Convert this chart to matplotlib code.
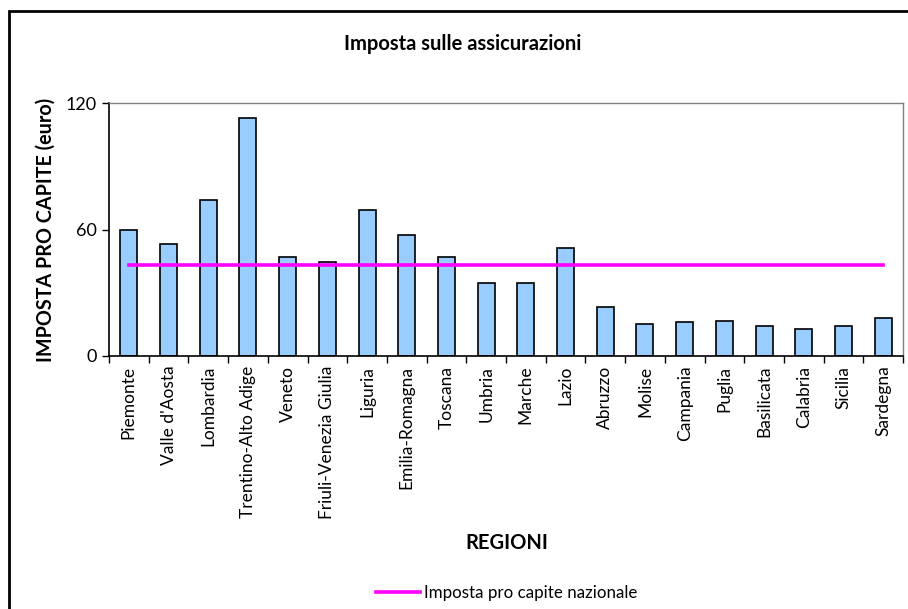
import matplotlib.pyplot as plt
from matplotlib.patches import Rectangle
import numpy as np

plt.rcParams["font.family"] = ["Lato", "DejaVu Sans"]

regions = [
    "Piemonte", "Valle d'Aosta", "Lombardia", "Trentino-Alto Adige", "Veneto",
    "Friuli-Venezia Giulia", "Liguria", "Emilia-Romagna", "Toscana", "Umbria",
    "Marche", "Lazio", "Abruzzo", "Molise", "Campania", "Puglia", "Basilicata",
    "Calabria", "Sicilia", "Sardegna",
]
# imposta pro capite per regione (euro)
imposta = [60.0, 53.3, 74.0, 113.0, 46.8, 44.4, 69.4, 57.4, 46.8, 34.8,
           34.8, 51.4, 23.4, 15.2, 15.9, 16.8, 14.4, 13.0, 14.4, 18.2]
# media nazionale
nazionale = 43.2
y_ticks = [0, 60, 120]

fig = plt.figure(figsize=(9.08, 6.09), dpi=100)
ax = fig.add_axes([109 / 908, 1 - 356 / 609, 794 / 908, 253 / 609])

x = np.arange(len(regions))
ax.bar(x, imposta, width=0.43, color="#99CCFF", edgecolor="black", linewidth=1.2, zorder=2)
ax.plot([x[0], x[-1]], [nazionale, nazionale], color="#FF00FF", linewidth=2.6,
        label="Imposta pro capite nazionale", zorder=3)

ax.set_xlim(-0.5, len(regions) - 0.5)
ax.set_ylim(0, 120)
ax.set_yticks(y_ticks)
ax.tick_params(axis="y", direction="out", length=5, width=1, labelsize=13, pad=4)

ax.set_xticks(x)
ax.set_xticklabels(regions, rotation=90, fontsize=12.5)
ax.tick_params(axis="x", which="major", length=0, pad=7)
ax.set_xticks(np.arange(len(regions) + 1) - 0.5, minor=True)
ax.tick_params(axis="x", which="minor", direction="out", length=5, width=1)

for side in ["top", "right"]:
    ax.spines[side].set_color("#808080")
    ax.spines[side].set_linewidth(1)
for side in ["left", "bottom"]:
    ax.spines[side].set_color("black")
    ax.spines[side].set_linewidth(1.2)

ax.set_ylabel("IMPOSTA PRO CAPITE (euro)", fontsize=14.2, fontweight="bold", labelpad=7)
fig.text(463 / 908, 1 - 44 / 609, "Imposta sulle assicurazioni", ha="center", va="center",
         fontsize=14.5, fontweight="bold")
fig.text(507 / 908, 1 - 543 / 609, "REGIONI", ha="center", va="center",
         fontsize=14.5, fontweight="bold")

fig.legend(loc="center", bbox_to_anchor=(507 / 908, 1 - 593 / 609), frameon=False,
           fontsize=12.2, handlelength=2.6, handletextpad=0.25)

# cornice esterna del grafico
fig.patches.append(Rectangle((9 / 908, -0.1), 1.2, 1 - 11 / 609 + 0.1, transform=fig.transFigure,
                             fill=False, edgecolor="black", linewidth=2))

fig.savefig("out.png", dpi=100)
